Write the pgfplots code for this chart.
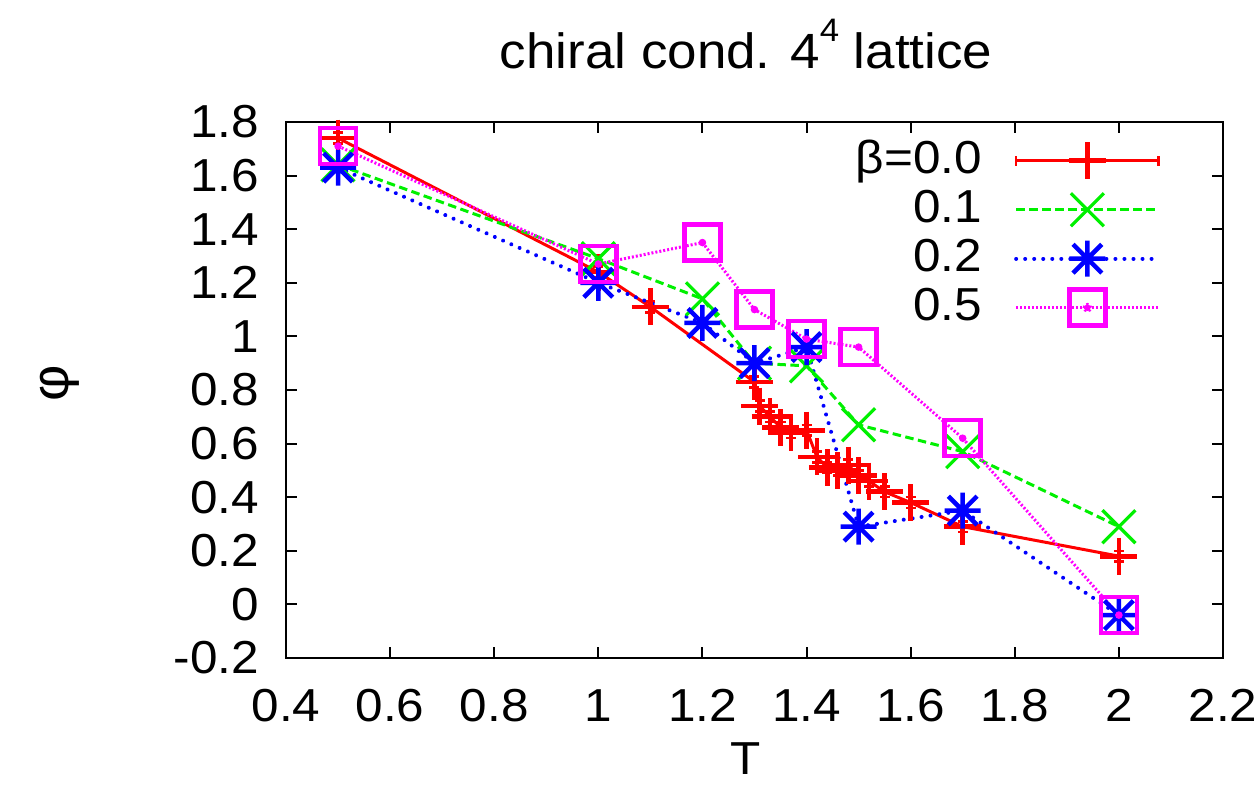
\documentclass[border=0pt]{standalone}
\usepackage{fontspec}
\setmainfont[FakeStretch=1.07]{Liberation Sans}
\usepackage{pgfplots}
\usepackage{pgfplotstable}
\pgfplotsset{compat=1.18}
\pgfdeclareplotmark{gpstar}{%
  \pgfpathmoveto{\pgfpoint{-\pgfplotmarksize}{0pt}}\pgfpathlineto{\pgfpoint{\pgfplotmarksize}{0pt}}%
  \pgfpathmoveto{\pgfpoint{0pt}{-\pgfplotmarksize}}\pgfpathlineto{\pgfpoint{0pt}{\pgfplotmarksize}}%
  \pgfpathmoveto{\pgfpoint{-0.8\pgfplotmarksize}{-0.8\pgfplotmarksize}}\pgfpathlineto{\pgfpoint{0.8\pgfplotmarksize}{0.8\pgfplotmarksize}}%
  \pgfpathmoveto{\pgfpoint{-0.8\pgfplotmarksize}{0.8\pgfplotmarksize}}\pgfpathlineto{\pgfpoint{0.8\pgfplotmarksize}{-0.8\pgfplotmarksize}}%
  \pgfusepathqstroke}
\pgfdeclareplotmark{gpx}{%
  \pgfpathmoveto{\pgfpoint{-\pgfplotmarksize}{-\pgfplotmarksize}}\pgfpathlineto{\pgfpoint{\pgfplotmarksize}{\pgfplotmarksize}}%
  \pgfpathmoveto{\pgfpoint{-\pgfplotmarksize}{\pgfplotmarksize}}\pgfpathlineto{\pgfpoint{\pgfplotmarksize}{-\pgfplotmarksize}}%
  \pgfusepathqstroke}
\definecolor{gpred}{RGB}{255,0,0}
\definecolor{gpgreen}{RGB}{0,240,0}
\definecolor{gpblue}{RGB}{0,0,255}
\definecolor{gpmag}{RGB}{255,0,255}
\pgfplotsset{
  redleg/.style={legend image code/.code={%
    \draw[##1, mark=none] (0pt,0pt) -- (57pt,0pt);
    \draw[gpred, line width=1pt] (0pt,-2pt) -- (0pt,2pt) (57pt,-2pt) -- (57pt,2pt);
    \draw[##1, only marks] plot coordinates {(28.5pt,0pt)};}},
  magleg/.style={legend image code/.code={%
    \draw[##1, mark=none] (0pt,0pt) -- (57pt,0pt);
    \draw[##1, only marks] plot coordinates {(28.5pt,0pt)};
    \fill[gpmag] (28.5pt,0pt) circle (1.3pt);}},
}

\pgfplotstableread{
x y e
0.5 1.74 0.02
1.0 1.24 0.02
1.1 1.11 0.02
1.3 0.83 0.02
1.31 0.74 0.02
1.33 0.70 0.02
1.35 0.66 0.02
1.37 0.64 0.02
1.40 0.65 0.02
1.42 0.55 0.02
1.44 0.51 0.02
1.46 0.50 0.02
1.48 0.52 0.02
1.50 0.48 0.02
1.52 0.46 0.02
1.55 0.42 0.02
1.60 0.38 0.02
1.70 0.29 0.02
2.0 0.18 0.02
}\betazero
\pgfplotstableread{
x y
0.5 1.64
1.0 1.29
1.2 1.14
1.3 0.90
1.4 0.89
1.5 0.67
1.7 0.57
2.0 0.29
}\betaone
\pgfplotstableread{
x y
0.5 1.63
1.0 1.20
1.2 1.05
1.3 0.90
1.4 0.96
1.5 0.29
1.7 0.35
2.0 -0.04
}\betatwo
\pgfplotstableread{
x y
0.5 1.71
1.0 1.27
1.2 1.35
1.3 1.10
1.4 0.99
1.5 0.96
1.7 0.62
2.0 -0.04
}\betafive

\begin{document}
\begin{tikzpicture}[x=1pt,y=1pt]
\useasboundingbox (0,0) rectangle (501.6,320.4);
\begin{axis}[
  at={(114.4pt,57.2pt)}, anchor=south west,
  scale only axis, width=374.8pt, height=214.4pt,
  xmin=0.4, xmax=2.2, ymin=-0.2, ymax=1.8,
  xtick={0.4,0.6,0.8,1,1.2,1.4,1.6,1.8,2,2.2},
  ytick={-0.2,0,0.2,0.4,0.6,0.8,1,1.2,1.4,1.6,1.8},
  clip=false,
  tick align=inside, major tick length=4.4pt,
  tick style={black, line width=0.8pt},
  axis line style={line width=0.8pt},
  /pgf/number format/assume math mode=true,
  tick label style={font=\fontsize{18.5}{22}\selectfont},
  xticklabel style={yshift=-9pt},
  yticklabel style={xshift=-7.2pt},
  xlabel={T},
  xlabel style={font=\fontsize{18.5}{22}\selectfont, at={(axis description cs:0.49,0)}, anchor=base, yshift=-46.8pt},
  ylabel={φ},
  ylabel style={font=\fontsize{21}{24}\selectfont, at={(axis description cs:-0.241,0.513)}, anchor=center},
  title={chiral cond. 4\raisebox{0.55em}{\fontsize{13}{13}\selectfont 4} lattice},
  title style={font=\fontsize{19.8}{23}\selectfont, at={(axis description cs:0.491,1)}, anchor=base, yshift=15.2pt},
  legend cell align=right, legend plot pos=right,
  legend style={draw=none, fill=none, at={(axis description cs:0.934,0.966)}, anchor=north east,
     font=\fontsize{18.5}{22}\selectfont, inner sep=0pt, row sep=3.6pt, column sep=12.8pt,
     nodes={inner sep=0pt, text height=13pt, text depth=3pt}},
  legend image code/.code={\draw[mark repeat=2,mark phase=2,#1] plot coordinates {(0pt,0pt) (28.5pt,0pt) (57pt,0pt)};},
]
\addplot[gpred, line width=1.2pt, mark=+, mark size=7.4pt, mark options={solid, line width=1.9pt}, redleg,
  error bars/.cd, y dir=both, y explicit, error bar style={line width=1pt}, error mark options={rotate=90, mark size=2pt, line width=1pt},
  ] table[x=x, y=y, y error=e] {\betazero};
\addlegendentry{β=0.0}
\addplot[gpgreen, line width=1.2pt, dash pattern=on 3.4pt off 1.8pt, mark=gpx, mark size=6.6pt, mark options={solid, line width=1.3pt}] table[x=x,y=y] {\betaone};
\addlegendentry{0.1}
\addplot[gpblue, line width=1.6pt, line cap=round, dash pattern=on 0.01pt off 3.6pt, mark=gpstar, mark size=7.2pt, mark options={solid, line width=1.8pt, line cap=butt}] table[x=x,y=y] {\betatwo};
\addlegendentry{0.2}
\addplot[gpmag, line width=1.2pt, dash pattern=on 0.8pt off 0.8pt, mark=square, mark size=7.2pt, mark options={solid, line width=1.8pt}, magleg] table[x=x,y=y] {\betafive};
\addlegendentry{0.5}
\addplot[gpmag, only marks, mark=*, mark size=1.3pt, forget plot] table[x=x,y=y] {\betafive};
\end{axis}
\end{tikzpicture}
\end{document}
